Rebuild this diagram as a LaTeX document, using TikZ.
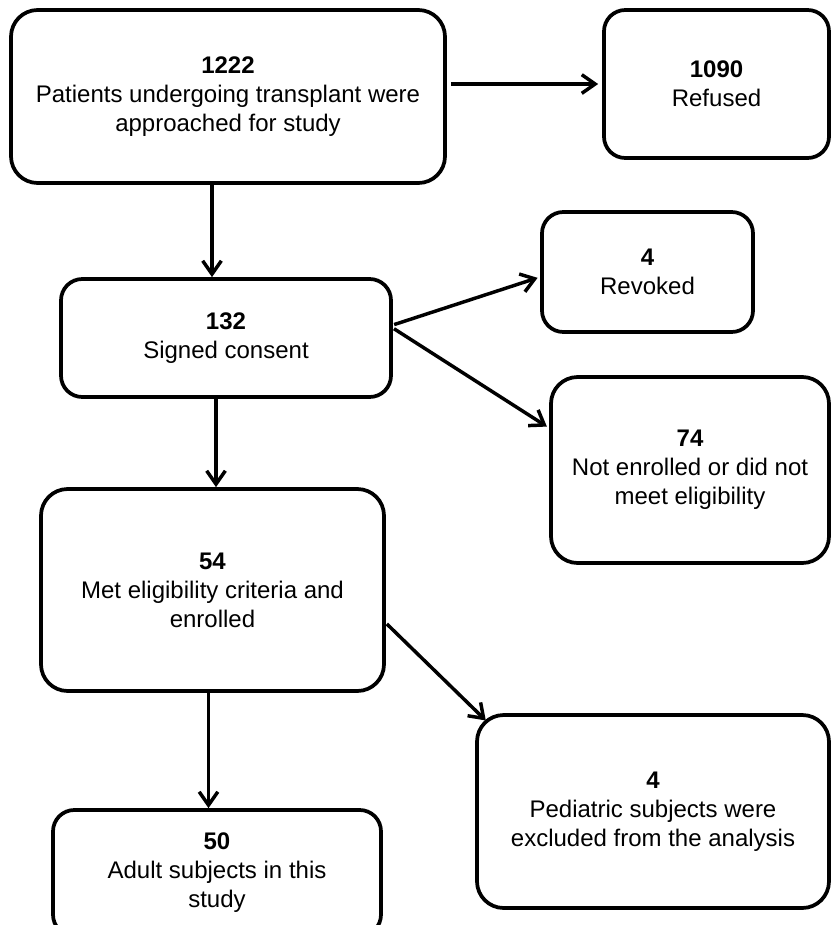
\documentclass[tikz,border=0pt]{standalone}
\usepackage{fontspec}
\setmainfont{Liberation Sans}
\usetikzlibrary{arrows.meta}
\begin{document}
\begin{tikzpicture}[x=0.75pt,y=-0.75pt,
  box/.style={draw, line width=2.8pt, rounded corners=16pt, inner sep=0pt, align=center,
              font=\fontsize{18}{21.75}\selectfont},
  bigbox/.style={box, rounded corners=20pt},
  arr/.style={line width=2.6pt, -{Straight Barb[length=10pt,width=14pt,line width=2.6pt]}}]
\useasboundingbox (0,0) rectangle (831,925);
\clip (0,0) rectangle (831,925);
\fill[white] (0,0) rectangle (831,925);

\node[bigbox, minimum width=325.5pt, minimum height=129.75pt] (b1) at (228,96.5)
  {\textbf{1222}\\Patients undergoing transplant were\\approached for study};
\node[box, minimum width=168.75pt, minimum height=111pt] (refused) at (716.5,84)
  {\textbf{1090}\\Refused};
\node[box, minimum width=158.25pt, minimum height=90pt] (revoked) at (647.5,272)
  {\textbf{4}\\Revoked};
\node[box, minimum width=247.5pt, minimum height=88.5pt] (c132) at (226,338)
  {\textbf{132}\\Signed consent};
\node[bigbox, minimum width=208.5pt, minimum height=139.5pt] (n74) at (690,470)
  {\textbf{74}\\Not enrolled or did not\\meet eligibility};
\node[bigbox, minimum width=257.25pt, minimum height=151.5pt] (c54) at (212.5,590)
  {\textbf{54}\\Met eligibility criteria and\\enrolled};
\node[bigbox, minimum width=264pt, minimum height=144.75pt] (ped) at (653,811.5)
  {\textbf{4}\\Pediatric subjects were\\excluded from the analysis};
\node[box, minimum width=246pt, minimum height=94.5pt] (c50) at (217,873)
  {\textbf{50}\\Adult subjects in this\\study};

\draw[arr, shorten <=3pt, shorten >=3pt] (b1.east |- refused.west) -- (refused.west);
\draw[arr] ([xshift=-12pt]b1.south) -- ([xshift=-12pt]b1.south |- c132.north);
\draw[arr] ([xshift=-7.5pt]c132.south) -- ([xshift=-7.5pt]c132.south |- c54.north);
\draw[arr] ([xshift=-3pt]c54.south) -- ([xshift=-3pt]c54.south |- c50.north);
\draw[arr, shorten <=1pt, shorten >=2pt] ([yshift=9.75pt]c132.east) -- ([yshift=-3.75pt]revoked.west);
\draw[arr, shorten <=1pt, shorten >=2pt] ([yshift=7.5pt]c132.east) -- ([yshift=31.5pt]n74.west);
\draw[arr, shorten <=1pt] ([yshift=-24.75pt]c54.east) -- ([xshift=8pt,yshift=-5.5pt]ped.north west);
\end{tikzpicture}
\end{document}
